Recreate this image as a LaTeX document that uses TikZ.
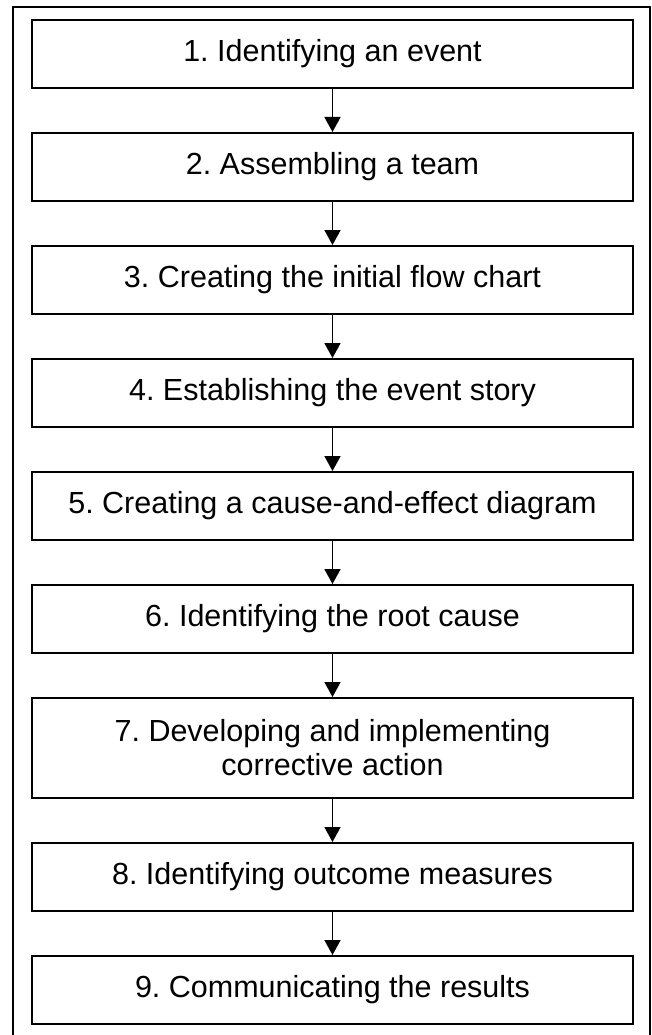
\documentclass[tikz,border=0pt]{standalone}
\usepackage{fontspec}
\setmainfont{Liberation Sans}
\usetikzlibrary{arrows.meta}
\frenchspacing
\begin{document}
\begin{tikzpicture}[x=1pt,y=-1pt,
  stepbox/.style={draw,line width=2pt,minimum width=601pt,minimum height=68pt,
    inner sep=0pt,align=center,font=\fontsize{30.5}{34}\selectfont},
  flow/.style={line width=1.7pt,-{Triangle[length=15pt,width=16pt]}}]
\useasboundingbox (0,0) rectangle (652,1035);
% open frame round the chart
\draw[line width=2.2pt] (13,1040) -- (13,7) -- (650,7) -- (650,1040);
% the nine steps
\node[stepbox] (s1) at (332.5,54) {1. Identifying an event};
\node[stepbox] (s2) at (332.5,167) {2. Assembling a team};
\node[stepbox] (s3) at (332.5,280) {3. Creating the initial flow chart};
\node[stepbox] (s4) at (332.5,393) {4. Establishing the event story};
\node[stepbox] (s5) at (332.5,506) {5. Creating a cause-and-effect diagram};
\node[stepbox] (s6) at (332.5,619) {6. Identifying the root cause};
\node[stepbox,minimum height=100pt] (s7) at (332.5,748) {7. Developing and implementing\\corrective action};
\node[stepbox] (s8) at (332.5,877) {8. Identifying outcome measures};
\node[stepbox] (s9) at (332.5,990) {9. Communicating the results};
% arrows between steps
\foreach \a/\b in {s1/s2,s2/s3,s3/s4,s4/s5,s5/s6,s6/s7,s7/s8,s8/s9}
  \draw[flow] (\a.south) -- (\b.north);
\end{tikzpicture}
\end{document}
